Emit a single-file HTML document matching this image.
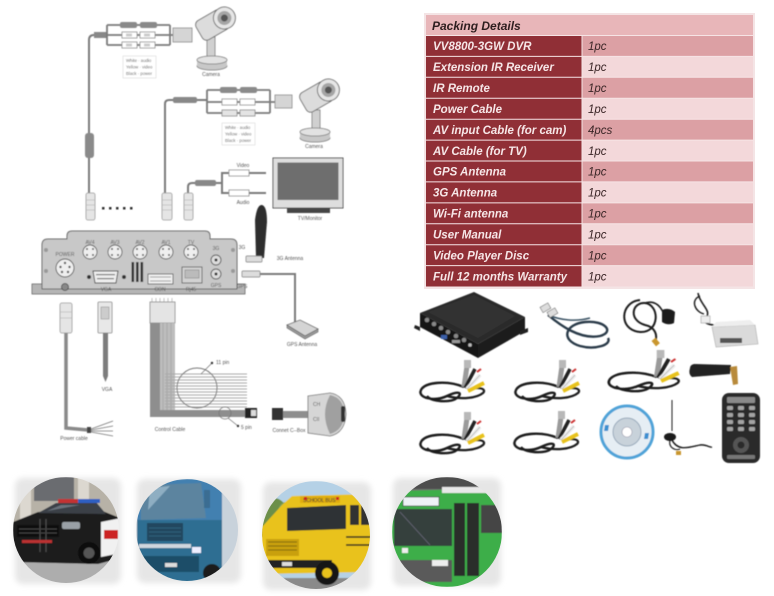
<!DOCTYPE html>
<html><head><meta charset="utf-8">
<style>
html,body{margin:0;padding:0;background:#fff;}
svg{display:block;}
text{font-family:"Liberation Sans",sans-serif;}
.lb{font-size:5px;fill:#555;}
.sm{font-size:4.3px;fill:#666;}
.tl{font-size:11.5px;font-weight:bold;font-style:italic;fill:#f6e6e7;}
.tr{font-size:11.5px;font-style:italic;fill:#3a2526;}
.cb{fill:none;stroke:#7a7a7a;stroke-width:2;}
</style></head><body>
<svg width="774" height="596" viewBox="0 0 774 596" xmlns="http://www.w3.org/2000/svg">
<defs>
 <filter id="bl" x="-20%" y="-20%" width="140%" height="140%"><feGaussianBlur stdDeviation="3"/></filter>
 <filter id="b1" x="-10%" y="-10%" width="120%" height="120%"><feGaussianBlur stdDeviation="0.5"/></filter>
 <clipPath id="c1"><circle cx="66" cy="530" r="53"/></clipPath>
 <clipPath id="c2"><circle cx="187" cy="530" r="51"/></clipPath>
 <clipPath id="c3"><circle cx="316" cy="535" r="54"/></clipPath>
 <clipPath id="c4"><circle cx="447" cy="532" r="55"/></clipPath>
 <g id="av">
  <path d="M47,27 C30,20 8,22 4,30 C0,38 18,42 30,36 C42,30 46,33 40,38 C34,43 14,42 10,36" fill="none" stroke="#1b1b1b" stroke-width="2.4"/>
  <path d="M30,36 C45,40 60,38 66,33 C70,29 62,26 52,30" fill="none" stroke="#1b1b1b" stroke-width="2.2"/>
  <path d="M47,27 L50,6" stroke="#9a9a9a" stroke-width="5"/>
  <rect x="47" y="0" width="7" height="8" fill="#b8b8b8"/>
  <path d="M48,28 L58,9" stroke="#222" stroke-width="3.5"/>
  <path d="M50,29 L63,15" stroke="#eee" stroke-width="4"/>
  <path d="M50,29 L63,15" stroke="#aaa" stroke-width="0.6" fill="none"/>
  <path d="M51,31 L67,23" stroke="#e8c21a" stroke-width="4"/>
  <path d="M60,12 L64,9" stroke="#c33" stroke-width="2"/>
 </g>
</defs>

<!-- ================= PACKING TABLE ================= -->
<rect x="424" y="13" width="331" height="276" fill="#f4e4e5"/>
<rect x="426" y="15" width="327" height="20.5" fill="#e8b6b9"/>
<text x="432" y="30" font-size="12" font-weight="bold" font-style="italic" fill="#2e1e1f">Packing Details</text>

<g>
<rect x="426" y="35.5" width="156" height="251" fill="#902f36"/>
<rect x="582" y="35.5" width="171" height="20.9" fill="#dca0a4"/>
<rect x="582" y="56.4" width="171" height="20.9" fill="#f3d8da"/>
<rect x="582" y="77.3" width="171" height="20.9" fill="#dca0a4"/>
<rect x="582" y="98.3" width="171" height="20.9" fill="#f3d8da"/>
<rect x="582" y="119.2" width="171" height="20.9" fill="#dca0a4"/>
<rect x="582" y="140.1" width="171" height="20.9" fill="#f3d8da"/>
<rect x="582" y="161.0" width="171" height="20.9" fill="#dca0a4"/>
<rect x="582" y="181.9" width="171" height="20.9" fill="#f3d8da"/>
<rect x="582" y="202.9" width="171" height="20.9" fill="#dca0a4"/>
<rect x="582" y="223.8" width="171" height="20.9" fill="#f3d8da"/>
<rect x="582" y="244.7" width="171" height="20.9" fill="#dca0a4"/>
<rect x="582" y="265.6" width="171" height="20.9" fill="#f3d8da"/>
</g>
<g stroke="#f6e4e5" stroke-width="1">
<line x1="426" y1="35.5" x2="753" y2="35.5"/>
<line x1="426" y1="56.4" x2="753" y2="56.4"/>
<line x1="426" y1="77.3" x2="753" y2="77.3"/>
<line x1="426" y1="98.3" x2="753" y2="98.3"/>
<line x1="426" y1="119.2" x2="753" y2="119.2"/>
<line x1="426" y1="140.1" x2="753" y2="140.1"/>
<line x1="426" y1="161.0" x2="753" y2="161.0"/>
<line x1="426" y1="181.9" x2="753" y2="181.9"/>
<line x1="426" y1="202.9" x2="753" y2="202.9"/>
<line x1="426" y1="223.8" x2="753" y2="223.8"/>
<line x1="426" y1="244.7" x2="753" y2="244.7"/>
<line x1="426" y1="265.6" x2="753" y2="265.6"/>
<line x1="582" y1="35.5" x2="582" y2="286.5"/>
</g>
<g class="tl">
<text x="433" y="50.2" class="tl">VV8800-3GW DVR</text>
<text x="433" y="71.1" class="tl">Extension IR Receiver</text>
<text x="433" y="92.0" class="tl">IR Remote</text>
<text x="433" y="113.0" class="tl">Power Cable</text>
<text x="433" y="133.9" class="tl">AV input Cable (for cam)</text>
<text x="433" y="154.8" class="tl">AV Cable (for TV)</text>
<text x="433" y="175.7" class="tl">GPS Antenna</text>
<text x="433" y="196.6" class="tl">3G Antenna</text>
<text x="433" y="217.6" class="tl">Wi-Fi antenna</text>
<text x="433" y="238.5" class="tl">User Manual</text>
<text x="433" y="259.4" class="tl">Video Player Disc</text>
<text x="433" y="280.3" class="tl">Full 12 months Warranty</text>
</g>
<g>
<text x="588" y="50.2" class="tr">1pc</text>
<text x="588" y="71.1" class="tr">1pc</text>
<text x="588" y="92.0" class="tr">1pc</text>
<text x="588" y="113.0" class="tr">1pc</text>
<text x="588" y="133.9" class="tr">4pcs</text>
<text x="588" y="154.8" class="tr">1pc</text>
<text x="588" y="175.7" class="tr">1pc</text>
<text x="588" y="196.6" class="tr">1pc</text>
<text x="588" y="217.6" class="tr">1pc</text>
<text x="588" y="238.5" class="tr">1pc</text>
<text x="588" y="259.4" class="tr">1pc</text>
<text x="588" y="280.3" class="tr">1pc</text>
</g>

<!-- ================= WIRING DIAGRAM ================= -->
<g filter="url(#b1)">
<!-- harness 1 -->
<path class="cb" d="M89,193 L89,40 Q89,35 94,35 L107,35"/>
<rect x="85" y="133" width="9" height="25" rx="3" fill="#8a8a8a"/>
<rect x="94" y="32" width="13" height="6" fill="#888"/>
<g fill="none" stroke="#7a7a7a" stroke-width="1.8">
<path d="M107,25 L170,25 M107,35 L170,35 M107,45 L170,45 M107,25 L107,45 M170,25 L170,45 M170,35 L173,35"/>
</g>
<rect x="120" y="22" width="17" height="6" rx="2" fill="#8a8a8a"/>
<rect x="140" y="22" width="17" height="6" rx="2" fill="#8a8a8a"/>
<rect x="122" y="32" width="15" height="6" fill="#fff" stroke="#888" stroke-width="0.8"/>
<rect x="140" y="32" width="15" height="6" fill="#fff" stroke="#888" stroke-width="0.8"/>
<rect x="122" y="42" width="15" height="6" fill="#fff" stroke="#888" stroke-width="0.8"/>
<rect x="140" y="42" width="15" height="6" fill="#fff" stroke="#888" stroke-width="0.8"/>
<rect x="126" y="33.5" width="6" height="3" fill="#ccc"/><rect x="144" y="33.5" width="6" height="3" fill="#ccc"/>
<rect x="126" y="43.5" width="6" height="3" fill="#ccc"/><rect x="144" y="43.5" width="6" height="3" fill="#ccc"/>
<rect x="173" y="28" width="19" height="14" fill="#d5d5d5" stroke="#888" stroke-width="0.8"/>
<rect x="123" y="56" width="33" height="22" fill="#fff" stroke="#e2e2e2" stroke-width="0.8"/>
<text x="126" y="62" class="sm">White · audio</text>
<text x="126" y="68.5" class="sm">Yellow · video</text>
<text x="126" y="75" class="sm">Black · power</text>

<!-- camera 1 -->
<rect x="207" y="37" width="8" height="21" fill="#d0d0d0" stroke="#777" stroke-width="0.8"/>
<ellipse cx="212" cy="66" rx="15" ry="4" fill="#c8c8c8" stroke="#777" stroke-width="0.8"/>
<rect x="197" y="60" width="30" height="6" fill="#c8c8c8"/>
<ellipse cx="212" cy="60" rx="15" ry="4" fill="#e2e2e2" stroke="#777" stroke-width="0.8"/>
<g transform="translate(214,24) rotate(-30)">
<rect x="-17" y="-11" width="30" height="22" rx="5" fill="#dcdcdc" stroke="#666" stroke-width="0.9"/>
<circle cx="12" cy="0" r="11" fill="#e6e6e6" stroke="#666" stroke-width="0.9"/>
<circle cx="12" cy="0" r="7" fill="#a5a5a5"/>
<circle cx="12" cy="0" r="3.5" fill="#555"/>
</g>
<text x="211" y="76" class="lb" text-anchor="middle">Camera</text>

<!-- harness 2 -->
<path class="cb" d="M165,193 L165,104 Q165,100 169,100 L207,100"/>
<rect x="173" y="97" width="24" height="6" rx="2" fill="#888"/>
<g fill="none" stroke="#7a7a7a" stroke-width="1.8">
<path d="M207,90 L270,90 M207,102 L270,102 M207,113 L270,113 M207,90 L207,113 M270,90 L270,113 M270,102 L275,102"/>
</g>
<rect x="220" y="87" width="17" height="6" rx="2" fill="#8a8a8a"/>
<rect x="240" y="87" width="17" height="6" rx="2" fill="#8a8a8a"/>
<rect x="222" y="99" width="15" height="6" fill="#fff" stroke="#888" stroke-width="0.8"/>
<rect x="240" y="99" width="15" height="6" fill="#fff" stroke="#888" stroke-width="0.8"/>
<rect x="222" y="110" width="15" height="6" fill="#e4e4e4" stroke="#888" stroke-width="0.8"/>
<rect x="240" y="110" width="15" height="6" fill="#e4e4e4" stroke="#888" stroke-width="0.8"/>
<rect x="275" y="95" width="17" height="13" fill="#d5d5d5" stroke="#888" stroke-width="0.8"/>
<rect x="222" y="123" width="33" height="22" fill="#fff" stroke="#e2e2e2" stroke-width="0.8"/>
<text x="225" y="129" class="sm">White · audio</text>
<text x="225" y="135.5" class="sm">Yellow · video</text>
<text x="225" y="142" class="sm">Black · power</text>

<!-- camera 2 -->
<rect x="312" y="110" width="8" height="20" fill="#d0d0d0" stroke="#777" stroke-width="0.8"/>
<ellipse cx="315" cy="138" rx="15" ry="4" fill="#c8c8c8" stroke="#777" stroke-width="0.8"/>
<rect x="300" y="132" width="30" height="6" fill="#c8c8c8"/>
<ellipse cx="315" cy="132" rx="15" ry="4" fill="#e2e2e2" stroke="#777" stroke-width="0.8"/>
<g transform="translate(318,96) rotate(-30)">
<rect x="-17" y="-11" width="30" height="22" rx="5" fill="#dcdcdc" stroke="#666" stroke-width="0.9"/>
<circle cx="12" cy="0" r="11" fill="#e6e6e6" stroke="#666" stroke-width="0.9"/>
<circle cx="12" cy="0" r="7" fill="#a5a5a5"/>
<circle cx="12" cy="0" r="3.5" fill="#555"/>
</g>
<text x="314" y="148" class="lb" text-anchor="middle">Camera</text>

<!-- TV -->
<rect x="273" y="158" width="70" height="50" fill="#dedede" stroke="#555" stroke-width="1"/>
<rect x="277.5" y="162.5" width="61" height="37.5" fill="#6e6e6e"/>
<rect x="287" y="208" width="43" height="5" fill="#444"/>
<text x="310" y="220" class="lb" text-anchor="middle">TV/Monitor</text>
<path class="cb" d="M188,193 L188,187 Q188,183 192,183 L222,183 M222,183 L222,173 L266,173 M222,183 L222,193 L266,193"/>
<rect x="195" y="180" width="21" height="6" rx="2" fill="#888"/>
<rect x="229" y="170" width="20" height="6" fill="#fff" stroke="#888" stroke-width="0.8"/>
<rect x="229" y="190" width="20" height="6" fill="#fff" stroke="#888" stroke-width="0.8"/>
<text x="243" y="167" class="lb" text-anchor="middle">Video</text>
<text x="243" y="204" class="lb" text-anchor="middle">Audio</text>

<!-- top plugs -->
<g fill="#e5e5e5" stroke="#999" stroke-width="0.8">
<rect x="86" y="193" width="9" height="27" rx="2"/>
<rect x="162" y="193" width="10" height="27" rx="2"/>
<rect x="184" y="193" width="9" height="27" rx="2"/>
</g>
<g stroke="#aaa" stroke-width="0.6">
<path d="M86,200 H95 M86,205 H95 M86,210 H95 M162,200 H172 M162,205 H172 M162,210 H172 M184,200 H193 M184,205 H193 M184,210 H193"/>
</g>
<g fill="#333">
<rect x="102" y="207" width="2.5" height="2.5"/><rect x="109" y="207" width="2.5" height="2.5"/>
<rect x="116" y="207" width="2.5" height="2.5"/><rect x="123" y="207" width="2.5" height="2.5"/>
<rect x="130" y="207" width="2.5" height="2.5"/>
</g>

<!-- DVR -->
<rect x="32" y="284" width="213" height="10" fill="#b5b5b5" stroke="#666" stroke-width="0.8"/>
<path d="M42,289 L42,245 Q42,239 48,239 L67,239 L67,236 Q67,231 72,231 L205,231 Q210,231 210,236 L210,239 L231,239 Q237,239 237,245 L237,289 Z" fill="#c8c8c8" stroke="#666" stroke-width="1"/>
<g fill="#999"><circle cx="46" cy="250" r="2"/><circle cx="46" cy="271" r="2"/><circle cx="233" cy="250" r="2"/><circle cx="233" cy="271" r="2"/></g>
<text x="65" y="256" class="lb" text-anchor="middle">POWER</text>
<circle cx="65" cy="268" r="9" fill="#efefef" stroke="#555" stroke-width="0.9"/>
<g fill="#555"><circle cx="65" cy="263" r="1.2"/><circle cx="60.5" cy="267" r="1.2"/><circle cx="69.5" cy="267" r="1.2"/><circle cx="62" cy="272" r="1.2"/><circle cx="68" cy="272" r="1.2"/></g>
<circle cx="65" cy="287" r="3.5" fill="#888" stroke="#444" stroke-width="0.8"/>
<g class="lb" text-anchor="middle">
<text x="90" y="244" class="lb">AV4</text><text x="115" y="244" class="lb">AV3</text><text x="140" y="244" class="lb">AV2</text><text x="166" y="244" class="lb">AV1</text><text x="191" y="244" class="lb">TV</text>
</g>
<g fill="#efefef" stroke="#555" stroke-width="0.9">
<circle cx="90" cy="252" r="7"/><circle cx="115" cy="252" r="7"/><circle cx="140" cy="252" r="7"/><circle cx="166" cy="252" r="7"/><circle cx="191" cy="252" r="7"/>
</g>
<g fill="#555">
<circle cx="87" cy="249" r="1"/><circle cx="93" cy="249" r="1"/><circle cx="87" cy="255" r="1"/><circle cx="93" cy="255" r="1"/>
<circle cx="112" cy="249" r="1"/><circle cx="118" cy="249" r="1"/><circle cx="112" cy="255" r="1"/><circle cx="118" cy="255" r="1"/>
<circle cx="137" cy="249" r="1"/><circle cx="143" cy="249" r="1"/><circle cx="137" cy="255" r="1"/><circle cx="143" cy="255" r="1"/>
<circle cx="163" cy="249" r="1"/><circle cx="169" cy="249" r="1"/><circle cx="163" cy="255" r="1"/><circle cx="169" cy="255" r="1"/>
<circle cx="188" cy="249" r="1"/><circle cx="194" cy="249" r="1"/><circle cx="188" cy="255" r="1"/><circle cx="194" cy="255" r="1"/>
</g>
<text x="216" y="250" class="lb" text-anchor="middle">3G</text>
<circle cx="216" cy="260" r="5" fill="#ddd" stroke="#555" stroke-width="0.9"/><circle cx="216" cy="260" r="1.5" fill="#333"/>
<circle cx="216" cy="274" r="5" fill="#ddd" stroke="#555" stroke-width="0.9"/><circle cx="216" cy="274" r="1.5" fill="#333"/>
<text x="216" y="287" class="lb" text-anchor="middle">GPS</text>
<path d="M93,271 L118,271 L116,283 L95,283 Z" fill="#eee" stroke="#444" stroke-width="0.9"/>
<g fill="#777"><rect x="96" y="274" width="19" height="1.2"/><rect x="97" y="278" width="17" height="1.2"/></g>
<circle cx="89" cy="277" r="2" fill="#333"/><circle cx="124" cy="277" r="2" fill="#333"/>
<text x="106" y="291" class="lb" text-anchor="middle">VGA</text>
<g fill="#333"><rect x="131.5" y="262" width="2.6" height="20"/><rect x="136" y="262" width="2.6" height="20"/><rect x="140.5" y="262" width="2.6" height="20"/></g>
<rect x="148" y="274" width="25" height="10" fill="#f0f0f0" stroke="#555" stroke-width="0.8"/>
<g stroke="#888" stroke-width="0.8"><path d="M150,277 H171 M150,281 H171"/></g>
<text x="160" y="291" class="lb" text-anchor="middle">CON</text>
<rect x="182" y="267" width="20" height="16" fill="#d2d2d2" stroke="#555" stroke-width="0.8"/>
<rect x="185" y="270" width="14" height="8" fill="#bbb" stroke="#777" stroke-width="0.5"/>
<text x="191" y="291" class="lb" text-anchor="middle">Rj45</text>

<!-- 3G antenna -->
<path d="M256,258 L255,220 Q257,204 262,205 Q267,206 267,222 L264,258 Z" fill="#2f2f2f"/>
<rect x="246" y="256" width="16" height="6" rx="1" fill="#ddd" stroke="#777" stroke-width="0.7"/>
<text x="242" y="249" class="lb" text-anchor="middle">3G</text>
<text x="290" y="260" class="lb" text-anchor="middle">3G Antenna</text>
<!-- GPS -->
<rect x="242" y="271" width="18" height="6" rx="1" fill="#ddd" stroke="#777" stroke-width="0.7"/>
<path class="cb" d="M260,274 L295,274 L295,325" stroke-width="1.4"/>
<path d="M287,325 L300,320 L318,329 L305,336 Z" fill="#d4d4d4" stroke="#666" stroke-width="0.8"/>
<path d="M287,325 L287,328 L305,339 L318,332 L318,329 L305,336 Z" fill="#999" stroke="#666" stroke-width="0.6"/>
<text x="242" y="288" class="lb" text-anchor="middle">GPS</text>
<text x="302" y="346" class="lb" text-anchor="middle">GPS Antenna</text>

<!-- power cable -->
<rect x="60" y="303" width="12" height="30" rx="2" fill="#e5e5e5" stroke="#999" stroke-width="0.8"/>
<path d="M60,312 H72 M60,318 H72" stroke="#aaa" stroke-width="0.6"/>
<path d="M66,333 L66,428 L88,430" fill="none" stroke="#8a8a8a" stroke-width="3.5"/>
<rect x="87" y="427" width="4" height="6" fill="#444"/>
<path d="M91,429 L113,421 M91,430 L113,426 M91,431 L113,431 M91,432 L113,436" stroke="#777" stroke-width="0.8"/>
<text x="74" y="440" class="lb" text-anchor="middle">Power cable</text>
<!-- VGA plug -->
<rect x="98" y="302" width="14" height="31" rx="1" fill="#e8e8e8" stroke="#888" stroke-width="0.8"/>
<rect x="101" y="307" width="8" height="12" fill="#ccc" stroke="#888" stroke-width="0.5"/>
<path d="M103,333 L103,376 L105.5,382 L108,376 L108,333 Z" fill="#7d7d7d"/>
<text x="107" y="391" class="lb" text-anchor="middle">VGA</text>

<!-- control cable -->
<rect x="150" y="302" width="25" height="21" fill="#e4e4e4" stroke="#888" stroke-width="0.8"/>
<path d="M152,302 V298 M156,302 V298 M160,302 V298 M164,302 V298 M168,302 V298 M172,302 V298" stroke="#999" stroke-width="0.6"/>
<path d="M150,323 L150,417 L247,417 L247,410 L160,410 L160,323 Z" fill="#8e8e8e"/>
<rect x="160" y="323" width="15" height="87" fill="#bdbdbd"/>
<g stroke="#a8a8a8" stroke-width="1"><path d="M163,323 V410 M167,323 V410 M171,323 V410"/></g>
<g stroke="#a9a9a9" stroke-width="1.1">
<path d="M165,374 H247 M165,377 H247 M165,380 H247 M165,383 H247 M165,386 H247 M165,389 H247 M165,392 H247 M165,395 H247 M165,398 H247 M165,401 H247 M165,404 H247 M165,407 H247"/>
</g>
<circle cx="197" cy="388" r="20" fill="none" stroke="#777" stroke-width="0.9"/>
<path d="M201,374 L212,363" stroke="#666" stroke-width="0.6"/><circle cx="212" cy="363" r="1.2" fill="#333"/>
<text x="216" y="364" class="lb">11 pin</text>
<circle cx="225" cy="413" r="6" fill="none" stroke="#777" stroke-width="0.8"/>
<path d="M228,418 L238,426" stroke="#666" stroke-width="0.6"/><circle cx="238" cy="426" r="1.2" fill="#333"/>
<text x="241" y="429" class="lb">5 pin</text>
<rect x="245" y="408" width="12" height="10" fill="#222"/><rect x="251" y="410" width="5" height="6" fill="#ddd"/>
<text x="170" y="431" class="lb" text-anchor="middle">Control Cable</text>
<!-- C-Box -->
<rect x="272" y="408" width="11" height="12" fill="#333"/>
<rect x="283" y="411" width="27" height="7" fill="#8e8e8e"/>
<path d="M308,396 L330,393 Q345,395 346,414 Q345,433 330,436 L308,433 Z" fill="#d6d6d6" stroke="#777" stroke-width="0.8"/>
<path d="M330,395 Q344,398 344,414 Q344,430 330,434 Q320,414 330,395 Z" fill="#a0a0a0"/>
<rect x="341" y="406" width="4" height="16" rx="2" fill="#333"/>
<text x="313" y="406" class="lb">CH</text>
<text x="313" y="421" class="lb">CII</text>
<text x="289" y="432" class="lb" text-anchor="middle">Connet C--Box</text>
</g>

<!-- ================= PRODUCTS ================= -->
<g filter="url(#b1)">
<polygon points="420,313 474,292 525,317 478,344" fill="#2b2b2b"/>
<polygon points="428,312 474,295 515,316 478,338" fill="#333"/>
<polygon points="420,313 478,344 478,358 420,327" fill="#131313"/>
<polygon points="478,344 525,317 525,331 478,358" fill="#1e1e1e"/>
<g fill="#888"><circle cx="427" cy="320" r="2.3"/><circle cx="434" cy="324" r="2.3"/><circle cx="441" cy="328" r="2.3"/><circle cx="448" cy="332" r="2.3"/><circle cx="456" cy="336" r="2.3"/><circle cx="464" cy="340" r="2.3"/></g>
<rect x="441" y="335" width="6" height="4" fill="#3a5fa8"/>
<rect x="452" y="340" width="8" height="3" fill="#999"/>
<circle cx="470" cy="345" r="1.8" fill="#bbb"/>
<polygon points="415,325 420,327 420,331 414,328" fill="#222"/>
<polygon points="520,331 528,328 528,332 520,335" fill="#222"/>
<path d="M548,315 C560,325 580,340 600,336 C615,332 605,320 585,322 C565,324 560,340 580,346 C595,350 612,345 608,338" fill="none" stroke="#2a3a48" stroke-width="2.4"/>
<path d="M548,315 C560,320 575,322 590,318" fill="none" stroke="#3d5566" stroke-width="1.6"/>
<rect x="541" y="305" width="9" height="6" fill="#ddd" stroke="#666" stroke-width="0.6" transform="rotate(-30 545 308)"/>
<rect x="548" y="310" width="9" height="6" fill="#ddd" stroke="#666" stroke-width="0.6" transform="rotate(-30 552 313)"/>
<path d="M640,300 C620,302 618,330 640,332 C660,333 660,305 645,303 C632,302 628,320 645,325 C655,327 658,335 655,342" fill="none" stroke="#1f1f1f" stroke-width="2"/>
<path d="M662,310 Q669,307 675,312 L674,323 Q668,326 662,322 Z" fill="#1a1a1a"/>
<path d="M645,303 C655,300 660,306 663,312" fill="none" stroke="#1f1f1f" stroke-width="1.6"/>
<rect x="653" y="339" width="5" height="7" fill="#c9962e" transform="rotate(-40 655 342)"/>
<path d="M698,293 C700,305 712,310 706,318 C700,326 720,325 726,327" fill="none" stroke="#1e1e1e" stroke-width="1.6"/>
<path d="M700,296 C690,300 695,312 704,314" fill="none" stroke="#1e1e1e" stroke-width="1.4"/>
<rect x="701" y="316" width="9" height="7" fill="#eee" stroke="#999" stroke-width="0.6"/>
<path d="M712,327 L755,325 L758,344 L716,347 Z" fill="#dadada" stroke="#aaa" stroke-width="0.6"/>
<path d="M712,327 L755,325 L750,320 L716,322 Z" fill="#eee"/>
<rect x="720" y="338" width="22" height="5" fill="#555"/>
<use href="#av" transform="translate(417,360)"/>
<use href="#av" transform="translate(512,360)"/>
<use href="#av" transform="translate(417,412)"/>
<use href="#av" transform="translate(511,411)"/>
<use href="#av" transform="translate(605,350) scale(1.1,1)"/>
<path d="M690,368 Q688,374 692,377 L730,374 L731,365 L694,364 Q690,365 690,368 Z" fill="#222"/>
<path d="M730,367 L737,366 L738,384 L733,385 Z" fill="#b88a3a"/>
<circle cx="627" cy="432" r="26" fill="#e6eef4" stroke="#4fa3d8" stroke-width="3"/>
<circle cx="627" cy="432" r="14" fill="#c8d2da" stroke="#9ab" stroke-width="1"/>
<circle cx="627" cy="432" r="5" fill="#fff" stroke="#99a" stroke-width="0.6"/>
<path d="M605,425 L609,425 L608,431 L604,431 Z M645,433 L649,433 L648,439 L644,439 Z" fill="#3b8fd0"/>
<path d="M672,400 L672,431" stroke="#1a1a1a" stroke-width="1"/>
<ellipse cx="670" cy="437" rx="6" ry="4" fill="#1a1a1a"/>
<path d="M672,440 C678,452 690,447 700,445 C706,444 710,448 712,447" fill="none" stroke="#1a1a1a" stroke-width="1.4"/>
<path d="M670,440 C668,448 676,451 680,449" fill="none" stroke="#1a1a1a" stroke-width="1.2"/>
<rect x="676" y="451" width="5" height="4" fill="#c9962e"/>
<rect x="722" y="393" width="38" height="70" rx="7" fill="#2b2b2b"/>
<rect x="727" y="397" width="28" height="6" rx="1" fill="#8a8a8a"/>
<g fill="#a3a3a3">
<rect x="727" y="406" width="6" height="4" rx="1"/><rect x="738" y="406" width="6" height="4" rx="1"/><rect x="749" y="406" width="6" height="4" rx="1"/>
<rect x="727" y="413" width="6" height="4" rx="1"/><rect x="738" y="413" width="6" height="4" rx="1"/><rect x="749" y="413" width="6" height="4" rx="1"/>
<rect x="727" y="420" width="6" height="4" rx="1"/><rect x="738" y="420" width="6" height="4" rx="1"/><rect x="749" y="420" width="6" height="4" rx="1"/>
<rect x="727" y="427" width="6" height="4" rx="1"/><rect x="738" y="427" width="6" height="4" rx="1"/><rect x="749" y="427" width="6" height="4" rx="1"/>
</g>
<circle cx="741" cy="445" r="8" fill="#555"/><circle cx="741" cy="445" r="3.5" fill="#2b2b2b"/>
<rect x="727" y="455" width="28" height="4" rx="1" fill="#777"/>
</g>

<!-- ================= VEHICLES ================= -->
<g filter="url(#bl)" fill="#e6e6e6">
<rect x="15" y="478" width="106" height="106" rx="8"/>
<rect x="137" y="479" width="104" height="104" rx="8"/>
<rect x="263" y="482" width="108" height="108" rx="8"/>
<rect x="393" y="478" width="108" height="108" rx="8"/>
</g>

<g clip-path="url(#c1)" filter="url(#b1)">
<rect x="13" y="477" width="107" height="107" fill="#b7b2a7"/>
<rect x="20" y="477" width="11" height="45" fill="#dcd8d0"/>
<rect x="78" y="477" width="11" height="32" fill="#dcd8d0"/>
<rect x="34" y="477" width="40" height="24" fill="#6a6c6f"/>
<rect x="13" y="556" width="107" height="30" fill="#adadad"/>
<path d="M13,522 L38,512 L95,508 L120,518 L121,558 L98,564 L13,562 Z" fill="#1d1d1d"/>
<path d="M38,513 L56,503 L96,502 L106,514 Z" fill="#3b4047"/>
<path d="M47,511 L61,505 L80,505 Z" fill="#6a727c"/>
<rect x="58" y="499" width="20" height="4" fill="#c43030"/>
<rect x="78" y="499" width="22" height="4" fill="#2f5fc2"/>
<rect x="17" y="525" width="42" height="12" fill="#0c0c0c"/>
<path d="M19,529 H57 M19,533 H57" stroke="#555" stroke-width="0.8"/>
<path d="M40,519 V552 M46,519 V552" stroke="#444" stroke-width="1.5"/>
<rect x="62" y="522" width="18" height="7" rx="2" fill="#9aa0a6"/>
<rect x="22" y="540" width="30" height="3" fill="#b33"/>
<path d="M101,522 L121,518 L121,553 L101,557 Z" fill="#f1f1f1"/>
<rect x="104" y="530" width="14" height="9" fill="#c22"/>
<circle cx="89" cy="553" r="11" fill="#0d0d0d"/><circle cx="89" cy="553" r="5.5" fill="#555"/>
</g>

<g clip-path="url(#c2)" filter="url(#b1)">
<rect x="136" y="479" width="103" height="104" fill="#dde3e8"/>
<path d="M137,492 L146,481 L207,478 L223,490 L224,583 L137,583 Z" fill="#4380b0"/>
<path d="M141,493 L150,485 L201,483 L206,518 L141,520 Z" fill="#5c849f"/>
<path d="M150,488 L170,486 L148,510 Z" fill="#8eaec2"/>
<rect x="137" y="520" width="87" height="63" fill="#2f6e92"/>
<rect x="147" y="523" width="36" height="18" fill="#23475f"/>
<path d="M149,528 H181 M149,532 H181 M149,536 H181" stroke="#3a6a86" stroke-width="0.8"/>
<rect x="139" y="544" width="52" height="4" fill="#cfd6de"/>
<rect x="192" y="547" width="9" height="6" fill="#eef"/>
<rect x="139" y="556" width="60" height="16" fill="#1f4d68"/>
<rect x="165" y="563" width="12" height="4" fill="#ddd"/>
<rect x="222" y="484" width="18" height="92" fill="#c8d2db"/>
<rect x="204" y="490" width="6" height="18" fill="#3a6d92"/>
<circle cx="212" cy="573" r="9" fill="#1c1c1c"/>
</g>

<g clip-path="url(#c3)" filter="url(#b1)">
<rect x="262" y="481" width="109" height="109" fill="#b5d1e6"/>
<ellipse cx="274" cy="522" rx="16" ry="24" fill="#6c8f4a"/>
<ellipse cx="286" cy="512" rx="8" ry="10" fill="#7fa05a"/>
<path d="M282,505 L292,496 L371,494 L371,572 L262,574 L262,527 Z" fill="#e9c21a"/>
<rect x="300" y="496" width="40" height="7" fill="#e0ad10"/>
<text x="303" y="502" font-size="5" fill="#333">SCHOOL BUS</text>
<rect x="304" y="497" width="3" height="3" fill="#c22"/><rect x="336" y="497" width="3" height="3" fill="#c22"/>
<path d="M287,508 L346,505 L346,529 L287,531 Z" fill="#2d3234"/>
<rect x="350" y="505" width="9" height="20" fill="#333"/><rect x="361" y="505" width="10" height="20" fill="#333"/>
<path d="M346,537 H371 M346,545 H371" stroke="#222" stroke-width="1.6"/>
<rect x="266" y="539" width="33" height="17" fill="#c9a010"/>
<path d="M268,542 H297 M268,546 H297 M268,550 H297" stroke="#6a5a10" stroke-width="0.8"/>
<rect x="262" y="560" width="70" height="8" fill="#222"/>
<rect x="282" y="562" width="10" height="4" fill="#ddd"/>
<rect x="262" y="578" width="109" height="12" fill="#8a8a8a"/>
<circle cx="327" cy="573" r="12" fill="#161616"/><circle cx="327" cy="573" r="5" fill="#e9c21a"/>
</g>

<g clip-path="url(#c4)" filter="url(#b1)">
<rect x="392" y="477" width="110" height="110" fill="#6f6f6f"/>
<rect x="392" y="477" width="110" height="12" fill="#4e4e4e"/>
<path d="M392,501 L399,491 L502,488 L502,587 L392,587 Z" fill="#3cae4a"/>
<rect x="442" y="487" width="60" height="6" fill="#e8e8e8"/>
<rect x="403" y="497" width="36" height="9" fill="#eef2f6" stroke="#333" stroke-width="0.6"/>
<rect x="394" y="509" width="58" height="37" fill="#36413c"/>
<path d="M400,512 L430,545" stroke="#667" stroke-width="0.8"/>
<rect x="454" y="503" width="25" height="73" fill="#2a2f2b"/>
<path d="M466,503 V576" stroke="#3cae4a" stroke-width="2"/>
<rect x="481" y="505" width="21" height="28" fill="#444"/>
<rect x="394" y="560" width="58" height="22" fill="#5a5a5a"/>
<rect x="432" y="560" width="16" height="6" fill="#eee"/>
<rect x="402" y="548" width="6" height="5" fill="#eee"/>
<circle cx="497" cy="582" r="9" fill="#222"/>
</g>
</svg>
</body></html>
